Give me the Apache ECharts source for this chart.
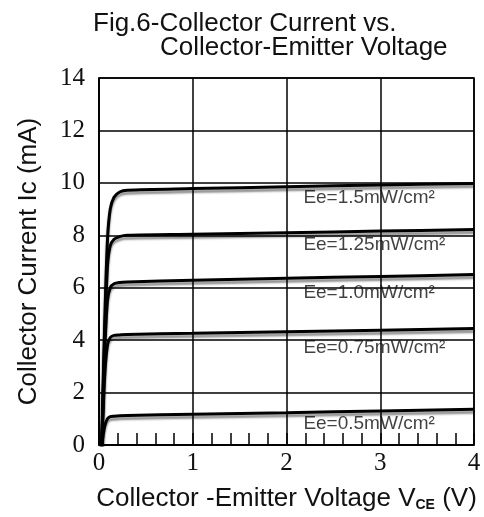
<!DOCTYPE html>
<html>
<head>
<meta charset="utf-8">
<script src="https://cdn.jsdelivr.net/npm/echarts@6/dist/echarts.min.js"></script>
<style>
  html, body { margin: 0; padding: 0; background: #fff; }
  #chart { width: 484px; height: 517px; }
</style>
</head>
<body>
<div id="chart"></div>
<script>
  // irradiance levels and their curves [Vce (V), Ic (mA)]
  var levels = ['Ee=1.5mW/cm²', 'Ee=1.25mW/cm²', 'Ee=1.0mW/cm²', 'Ee=0.75mW/cm²', 'Ee=0.5mW/cm²'];

  var curve150 = [[0.03, 0], [0.06, 4.5], [0.09, 7.8], [0.12, 9.0], [0.16, 9.45], [0.22, 9.65], [0.3, 9.72], [1, 9.78], [2, 9.85], [3, 9.92], [4, 9.98]];
  var curve125 = [[0.03, 0], [0.06, 4.0], [0.09, 6.8], [0.12, 7.6], [0.16, 7.85], [0.22, 7.95], [0.3, 8.0], [1, 8.04], [2, 8.1], [3, 8.16], [4, 8.22]];
  var curve100 = [[0.03, 0], [0.06, 3.5], [0.09, 5.5], [0.12, 6.0], [0.16, 6.15], [0.22, 6.2], [0.3, 6.22], [1, 6.28], [2, 6.36], [3, 6.43], [4, 6.5]];
  var curve075 = [[0.03, 0], [0.06, 2.6], [0.09, 3.8], [0.12, 4.1], [0.16, 4.18], [0.22, 4.2], [0.3, 4.22], [1, 4.26], [2, 4.32], [3, 4.38], [4, 4.44]];
  var curve050 = [[0.03, 0], [0.06, 0.7], [0.09, 1.0], [0.12, 1.08], [0.16, 1.1], [0.22, 1.12], [0.3, 1.13], [1, 1.17], [2, 1.23], [3, 1.3], [4, 1.36]];
  var curves = [curve150, curve125, curve100, curve075, curve050];

  // where each curve label sits [Vce, Ic]
  var labelPos = [[2.18, 9.42], [2.18, 7.64], [2.18, 5.8], [2.18, 3.7], [2.18, 0.8]];

  var xTicks = ['0', '1', '2', '3', '4'];
  var yTicks = ['0', '2', '4', '6', '8', '10', '12', '14'];

  var sans = 'Liberation Sans, Arial, sans-serif';
  var serif = 'Liberation Serif, Times New Roman, serif';

  var series = curves.map(function (c, i) {
    return {
      name: levels[i],
      type: 'line',
      data: c,
      smooth: 0.3,
      symbol: 'none',
      lineStyle: {
        color: '#000', width: 3,
        shadowColor: 'rgba(0,0,0,0.45)', shadowBlur: 2, shadowOffsetY: 3
      },
      silent: true
    };
  });

  series.push({
    type: 'scatter',
    symbolSize: 0,
    silent: true,
    data: labelPos.map(function (p, i) { return { value: p, name: levels[i] }; }),
    label: {
      show: true,
      position: 'right',
      distance: 0,
      formatter: '{b}',
      fontFamily: sans,
      fontSize: 19,
      color: '#111'
    }
  });

  var option = {
    backgroundColor: '#fff',
    animation: false,
    title: [{
      text: 'Fig.6-Collector Current vs.',
      left: 88,
      top: 6,
      textStyle: { fontFamily: sans, fontSize: 26, fontWeight: 'normal', color: '#111' }
    }, {
      text: 'Collector-Emitter Voltage',
      left: 155,
      top: 30,
      textStyle: { fontFamily: sans, fontSize: 26, fontWeight: 'normal', color: '#111' }
    }],
    grid: {
      left: 99, top: 78, right: 10, bottom: 69,
      show: true, borderColor: '#000', borderWidth: 1.5
    },
    xAxis: {
      type: 'value',
      min: 0, max: 4, interval: 1,
      name: 'Collector -Emitter Voltage V{sub|CE} (V)',
      nameLocation: 'middle',
      nameGap: 41,
      nameTextStyle: {
        fontFamily: sans,
        fontSize: 26,
        color: '#111',
        rich: {
          sub: { fontSize: 14, fontWeight: 'bold', verticalAlign: 'bottom', padding: [11, 0, 0, 0], fontFamily: sans, color: '#111' }
        }
      },
      axisLine: { lineStyle: { color: '#000', width: 1.5 } },
      axisTick: { show: true, inside: true, length: 12, lineStyle: { color: '#000', width: 1.5 } },
      minorTick: { show: true, splitNumber: 5, length: 12, lineStyle: { color: '#000', width: 1.5 } },
      splitLine: { show: true, lineStyle: { color: '#000', width: 1.5 } },
      axisLabel: {
        margin: 6,
        fontFamily: serif,
        fontSize: 25,
        color: '#111',
        formatter: function (v) { return xTicks[v]; }
      }
    },
    yAxis: {
      type: 'value',
      min: 0, max: 14, interval: 2,
      name: 'Collector Current Ic (mA)',
      nameLocation: 'middle',
      nameGap: 57,
      nameTextStyle: { fontFamily: sans, fontSize: 26, color: '#111' },
      axisLine: { lineStyle: { color: '#000', width: 1.5 } },
      axisTick: { show: false },
      splitLine: { show: true, lineStyle: { color: '#000', width: 1.5 } },
      axisLabel: {
        margin: 14,
        fontFamily: serif,
        fontSize: 25,
        color: '#111',
        formatter: function (v) { return yTicks[v / 2]; }
      }
    },
    series: series
  };

  echarts.init(document.getElementById('chart')).setOption(option);
</script>
</body>
</html>
